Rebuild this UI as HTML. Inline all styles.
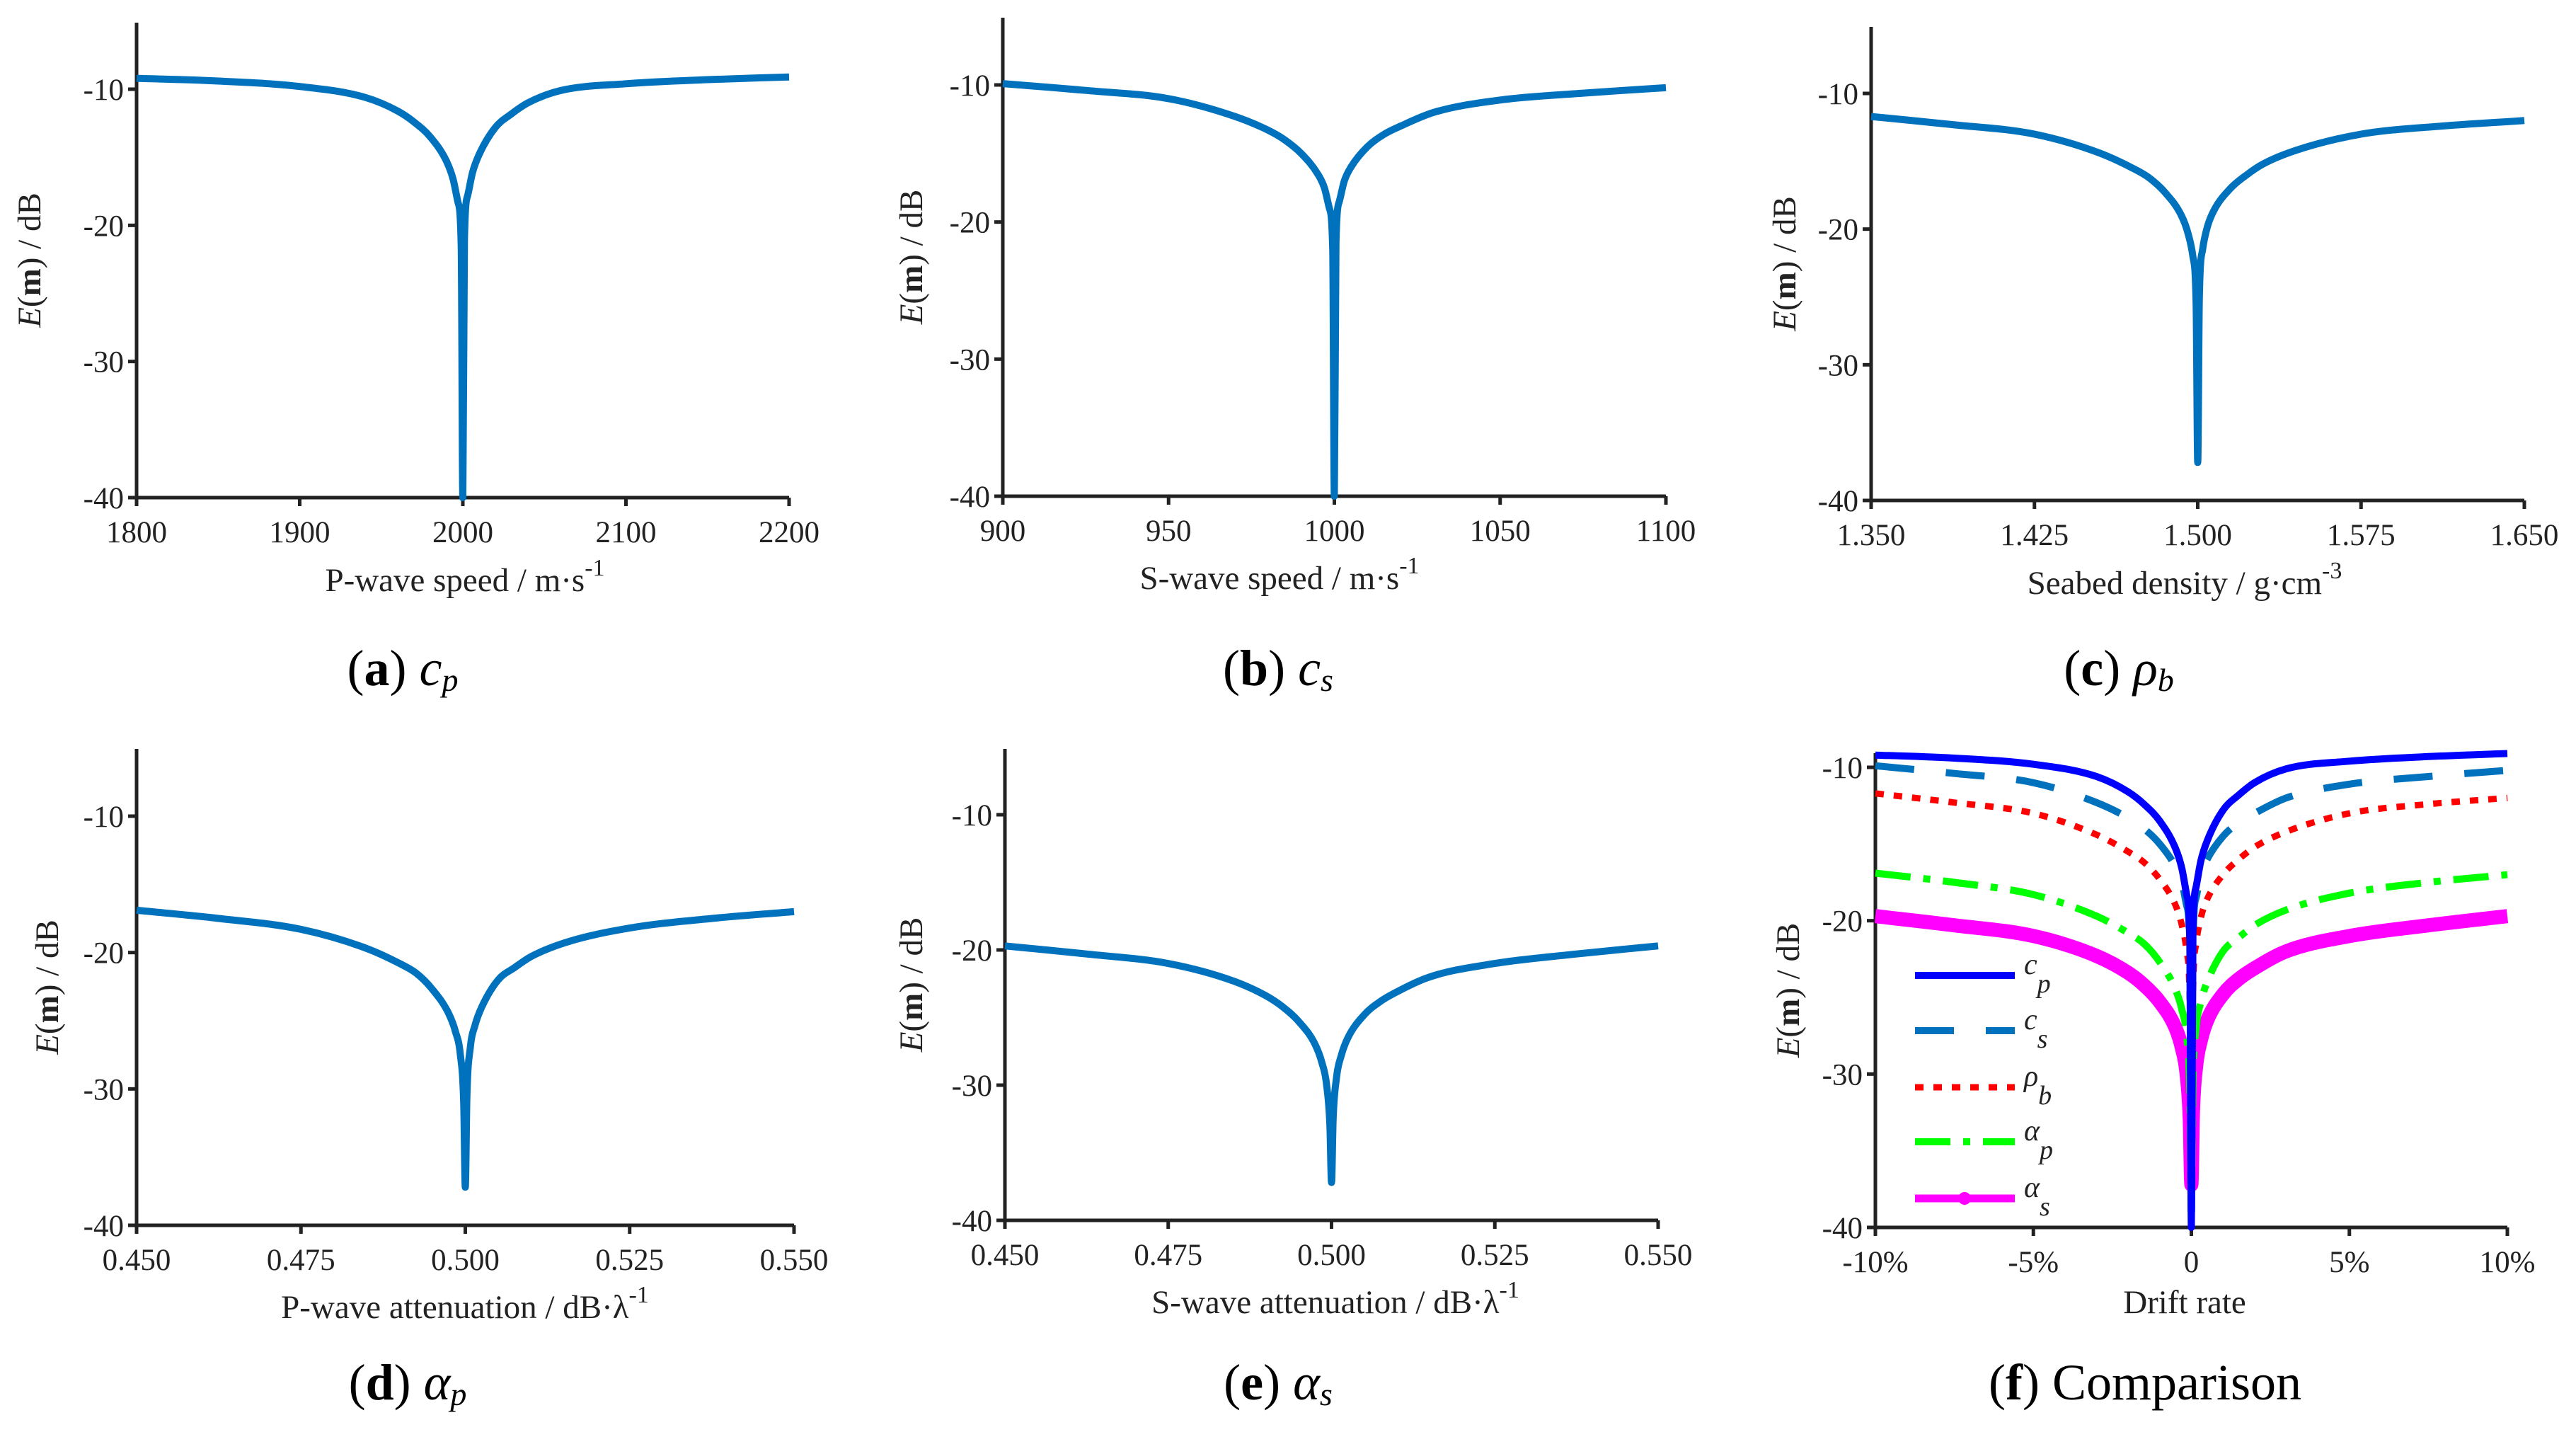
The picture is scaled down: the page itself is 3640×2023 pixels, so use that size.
<!DOCTYPE html>
<html><head><meta charset="utf-8"><style>
html,body{margin:0;padding:0;background:#fff;}
svg{display:block;font-family:"Liberation Serif",serif;}
</style></head><body>
<svg id="fig" width="3640" height="2023" viewBox="0 0 3640 2023" xmlns="http://www.w3.org/2000/svg"></svg>
<script>
const drift = [-10,-7.5,-5,-3,-2,-1.5,-1,-0.5,-0.3,-0.15,-0.05,0,0.05,0.15,0.3,0.5,1,1.5,2,3,5,7.5,10];
const cpVals  = [-9.2,-9.4,-9.8,-10.6,-11.6,-12.4,-13.5,-15.3,-16.6,-18.3,-21.5,-40,-21,-17.8,-16.1,-14.8,-12.8,-11.8,-11,-10.1,-9.6,-9.3,-9.1];
const csVals  = [-9.9,-10.4,-11,-12.3,-13.3,-14,-15,-16.5,-17.5,-19,-22,-40,-21.5,-18.5,-17,-16,-14.5,-13.6,-13,-12,-11.1,-10.6,-10.2];
const rhoVals = [-11.7,-12.3,-13,-14.4,-15.5,-16.2,-17.3,-19,-20.3,-22,-25.5,-37.2,-25,-21.5,-19.8,-18.6,-17,-16,-15.2,-14.2,-13,-12.4,-12];
const apVals  = [-16.9,-17.5,-18.3,-19.7,-20.8,-21.5,-22.7,-24.5,-25.8,-27.5,-31,-37.2,-30.5,-27,-25.3,-24,-22,-21.1,-20.3,-19.3,-18.2,-17.5,-17];
const asVals  = [-19.7,-20.3,-21,-22.3,-23.4,-24.2,-25.3,-27,-28.3,-30,-33,-37.2,-32.5,-29.5,-27.8,-26.5,-24.8,-23.8,-23.1,-22,-21,-20.3,-19.7];
const yTicks = [-10,-20,-30,-40];
const xTicksA = ["1800","1900","2000","2100","2200"];
const xTicksB = ["900","950","1000","1050","1100"];
const xTicksC = ["1.350","1.425","1.500","1.575","1.650"];
const xTicksD = ["0.450","0.475","0.500","0.525","0.550"];
const xTicksE = ["0.450","0.475","0.500","0.525","0.550"];
const xTicksF = ["-10%","-5%","0","5%","10%"];

const NS="http://www.w3.org/2000/svg";
const svg=document.getElementById('fig');
function mk(tag,attrs,parent){const e=document.createElementNS(NS,tag);for(const k in attrs)e.setAttribute(k,attrs[k]);(parent||svg).appendChild(e);return e;}

const panels=[
 {id:'a',x0:193,x1:1115,y10:126,y40:703,top:32,ticks:xTicksA,title:'P-wave speed / m·s',sup:'-1',tx:657,ty:835,yx:57,sub:['a','c','p'],sx:569,sy:968,vals:cpVals},
 {id:'b',x0:1417,x1:2354,y10:120,y40:701,top:25,ticks:xTicksB,title:'S-wave speed / m·s',sup:'-1',tx:1808,ty:832,yx:1303,sub:['b','c','s'],sx:1806,sy:968,vals:csVals},
 {id:'c',x0:2644,x1:3567,y10:132,y40:707,top:38,ticks:xTicksC,title:'Seabed density / g·cm',sup:'-3',tx:3087,ty:839,yx:2537,sub:['c','ρ','b'],sx:2994,sy:968,vals:rhoVals},
 {id:'d',x0:193,x1:1122,y10:1153,y40:1731,top:1058,ticks:xTicksD,title:'P-wave attenuation / dB·λ',sup:'-1',tx:657,ty:1862,yx:82,sub:['d','α','p'],sx:576,sy:1977,vals:apVals},
 {id:'e',x0:1420,x1:2343,y10:1151,y40:1724,top:1058,ticks:xTicksE,title:'S-wave attenuation / dB·λ',sup:'-1',tx:1887,ty:1855,yx:1303,sub:['e','α','s'],sx:1806,sy:1977,vals:asVals},
 {id:'f',x0:2650,x1:3543,y10:1084,y40:1734,top:1064,ticks:xTicksF,title:'Drift rate',sup:'',tx:3087,ty:1855,yx:2542,sub:['f','',''],sx:3031,sy:1977,vals:null}
];

function pathFor(p,vals){
  const xs=d=>p.x0+(d+10)/20*(p.x1-p.x0);
  const ys=v=>p.y10+(v+10)*(p.y40-p.y10)/(-30);
  const X=drift.map(xs), Y=vals.map(ys), n=X.length;
  const dl=[],m=[];
  for(let i=0;i<n-1;i++) dl.push((Y[i+1]-Y[i])/(X[i+1]-X[i]));
  m[0]=dl[0]; m[n-1]=dl[n-2];
  for(let i=1;i<n-1;i++){ m[i]=(dl[i-1]*dl[i]<=0)?0:(dl[i-1]+dl[i])/2; }
  for(let i=0;i<n-1;i++){
    if(dl[i]===0){m[i]=0;m[i+1]=0;continue;}
    const a=m[i]/dl[i], b=m[i+1]/dl[i], s=a*a+b*b;
    if(s>9){const t=3/Math.sqrt(s);m[i]=t*a*dl[i];m[i+1]=t*b*dl[i];}
  }
  let s='M'+X[0].toFixed(1)+','+Y[0].toFixed(1);
  for(let i=0;i<n-1;i++){
    const h=(X[i+1]-X[i])/3;
    s+='C'+(X[i]+h).toFixed(1)+','+(Y[i]+m[i]*h).toFixed(1)+' '+(X[i+1]-h).toFixed(1)+','+(Y[i+1]-m[i+1]*h).toFixed(1)+' '+X[i+1].toFixed(1)+','+Y[i+1].toFixed(1);
  }
  return s;
}

panels.forEach(p=>{
  const g=mk('g',{});
  
  
  const ys=v=>p.y10+(v+10)*(p.y40-p.y10)/(-30);
  const ax=mk('path',{d:`M${p.x0},${p.top}V${p.y40}H${p.x1}`,stroke:'#222',fill:'none','stroke-width':5},g);
  
  
  yTicks.forEach(t=>{
    const y=ys(t);
    mk('line',{x1:p.x0-12,x2:p.x0,y1:y,y2:y,stroke:'#222','stroke-width':5},g);
    const tl=mk('text',{x:p.x0-18,y:y+15,'font-size':43,'text-anchor':'end',fill:'#222'},g);
    tl.textContent=String(t);
    
    
  });
  p.ticks.forEach((t,i)=>{
    const x=p.x0+i/4*(p.x1-p.x0);
    mk('line',{x1:x,x2:x,y1:p.y40,y2:p.y40+12,stroke:'#222','stroke-width':5},g);
    const tl=mk('text',{x:x,y:p.y40+63,'font-size':43,'text-anchor':'middle',fill:'#222'},g);
    tl.textContent=t;
    
    
  });
  const xt=mk('text',{x:p.tx,y:p.ty,'font-size':47,'text-anchor':'middle',fill:'#222'},g);
  
  
  xt.appendChild(document.createTextNode(p.title));
  if(p.sup){const ts=mk('tspan',{dy:-22,'font-size':34},xt);ts.textContent=p.sup;}
  const yc=(p.top+p.y40)/2;
  const yt=mk('text',{x:p.yx,y:yc,'font-size':47,'text-anchor':'middle',fill:'#222',transform:`rotate(-90 ${p.yx} ${yc})`},g);
  
  
  yt.innerHTML='<tspan font-style="italic">E</tspan>(<tspan font-weight="bold">m</tspan>) / dB';
  const st=mk('text',{x:p.sx,y:p.sy,'font-size':72,'text-anchor':'middle',fill:'#000'},g);
  
  
  if(p.id==='f') st.innerHTML='(<tspan font-weight="bold">f</tspan>) Comparison';
  else st.innerHTML=`(<tspan font-weight="bold">${p.sub[0]}</tspan>) <tspan font-style="italic">${p.sub[1]}</tspan><tspan font-style="italic" font-size="46" dy="8">${p.sub[2]}</tspan>`;
  if(p.vals){
    const ln=mk('path',{d:pathFor(p,p.vals),stroke:'#0072BD','stroke-width':10,fill:'none','stroke-linejoin':'round'},g);
    
    
  }
});

const pf=panels[5];
const fSeries=[
 {name:'cp',vals:cpVals,color:'#0000FF',w:10,dash:'',lab:['c','p']},
 {name:'cs',vals:csVals,color:'#0072BD',w:10,dash:'55 45',lab:['c','s']},
 {name:'rho',vals:rhoVals,color:'#FF0000',w:9,dash:'12 14',lab:['ρ','b']},
 {name:'ap',vals:apVals,color:'#00FF00',w:10,dash:'50 18 10 18',lab:['α','p']},
 {name:'as',vals:asVals,color:'#FF00FF',w:20,dash:'',lab:['α','s']}
];
const legY=[1378,1456,1536,1613,1693];
fSeries.slice().reverse().forEach(s=>{
  const ln=mk('path',{d:pathFor(pf,s.vals),stroke:s.color,'stroke-width':s.w,fill:'none','stroke-dasharray':s.dash,'stroke-linejoin':'round'});
  
  
});
fSeries.forEach((s,i)=>{
  const y=legY[i];
  const g=mk('g',{});
  
  
  mk('line',{x1:2706,x2:2847,y1:y,y2:y,stroke:s.color,'stroke-width':s.name==='as'?11:s.w,'stroke-dasharray':s.dash},g);
  if(s.name==='as') mk('circle',{cx:2776,cy:y,r:9,fill:s.color},g);
  const t=mk('text',{x:2860,y:y-2,'font-size':42,'font-style':'italic',fill:'#222'},g);
  t.innerHTML=`${s.lab[0]}<tspan dy="26" font-size="38">${s.lab[1]}</tspan>`;
});
</script>
</body></html>
